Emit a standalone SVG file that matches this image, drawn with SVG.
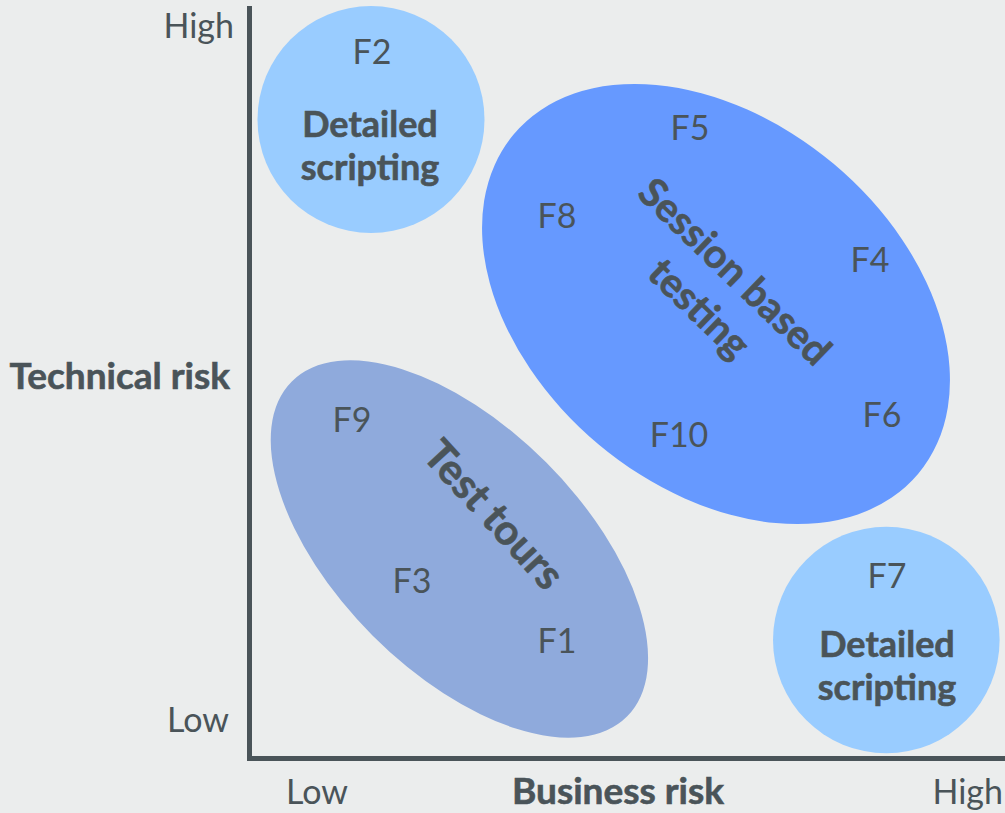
<svg xmlns="http://www.w3.org/2000/svg" width="1005" height="813" viewBox="0 0 1005 813">
<style>
text{font-family:Lato,"Noto Sans","Liberation Sans",sans-serif;fill:#4a5459}
.f{font-size:34px;text-anchor:middle}
.b{font-size:36px;font-weight:bold;text-anchor:middle;stroke:#4a5459;stroke-width:0.6}
.r{font-size:40px}
.r2{font-size:42px}
.ax{font-size:34px}
.t{font-size:37px;font-weight:bold;stroke:#4a5459;stroke-width:0.6}
.axis{stroke:#4a5459;stroke-width:5;fill:none}
</style>
<rect width="1005" height="813" fill="#ebeded"/>
<g id="axes">
<path class="axis" d="M249.5 6 V758.5 H1005"/>
<text class="ax" x="234" y="38" text-anchor="end">High</text>
<text class="ax" x="229" y="732" text-anchor="end">Low</text>
<text class="t" x="230" y="389" text-anchor="end">Technical risk</text>
<text class="ax" x="317" y="804" text-anchor="middle">Low</text>
<text class="t" x="618" y="804" text-anchor="middle">Business risk</text>
<text class="ax" x="1003" y="804" text-anchor="end">High</text>
</g>
<g id="tt">
<ellipse cx="459.4" cy="549" rx="237" ry="122.6" transform="rotate(45 459.4 549)" fill="#8faadc"/>
<text class="b r2" transform="translate(493.5 515) rotate(47.5)" x="0" y="14">Test tours</text>
<text class="f" x="352" y="432">F9</text>
<text class="f" x="412" y="593">F3</text>
<text class="f" x="557" y="653">F1</text>
</g>
<g id="sbt">
<ellipse cx="716" cy="304" rx="264" ry="183" transform="rotate(40 716 304)" fill="#6699ff"/>
<text class="b r" transform="translate(714 293) rotate(44)"><tspan x="0" y="-16">Session based</tspan><tspan x="0" y="35">testing</tspan></text>
<text class="f" x="690" y="140">F5</text>
<text class="f" x="557" y="228">F8</text>
<text class="f" x="870" y="272">F4</text>
<text class="f" x="882" y="427">F6</text>
<text class="f" x="679" y="447">F10</text>
</g>
<g id="ds1">
<circle cx="371" cy="119.5" r="113.5" fill="#99ccff"/>
<text class="f" x="372" y="64">F2</text>
<text class="b" x="370" y="137">Detailed</text>
<text class="b" x="370" y="180">scripting</text>
</g>
<g id="ds2">
<circle cx="886.3" cy="640" r="113.3" fill="#99ccff"/>
<text class="f" x="887" y="588">F7</text>
<text class="b" x="887" y="657">Detailed</text>
<text class="b" x="887" y="700">scripting</text>
</g>
</svg>
